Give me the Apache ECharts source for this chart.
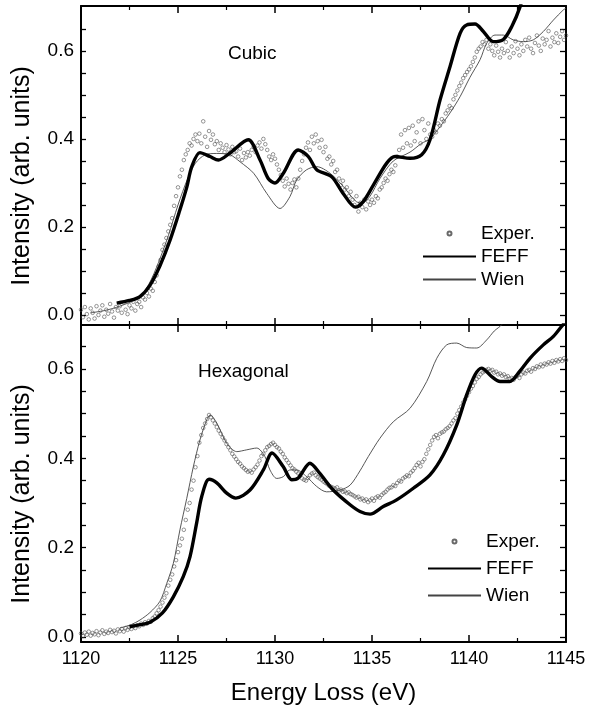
<!DOCTYPE html>
<html>
<head>
<meta charset="utf-8">
<script src="https://cdn.jsdelivr.net/npm/echarts@6/dist/echarts.min.js"></script>
<style>
html,body{margin:0;padding:0;background:#fff;}
#chart{width:589px;height:710px;}
</style>
</head>
<body>
<div id="chart"></div>
<script>
// Energy grid of the experimental spectra (eV)
const expEnergy = [
1120.0,1120.1,1120.2,1120.3,1120.4,1120.5,1120.6,1120.7,1120.8,1120.9,
1121.0,1121.1,1121.2,1121.3,1121.4,1121.5,1121.6,1121.7,1121.8,1121.9,
1122.0,1122.1,1122.2,1122.3,1122.4,1122.5,1122.6,1122.7,1122.8,1122.9,
1123.0,1123.1,1123.2,1123.3,1123.4,1123.5,1123.6,1123.7,1123.8,1123.9,
1124.0,1124.1,1124.2,1124.3,1124.4,1124.5,1124.6,1124.7,1124.8,1124.9,
1125.0,1125.1,1125.2,1125.3,1125.4,1125.5,1125.6,1125.7,1125.8,1125.9,
1126.0,1126.1,1126.2,1126.3,1126.4,1126.5,1126.6,1126.7,1126.8,1126.9,
1127.0,1127.1,1127.2,1127.3,1127.4,1127.5,1127.6,1127.7,1127.8,1127.9,
1128.0,1128.1,1128.2,1128.3,1128.4,1128.5,1128.6,1128.7,1128.8,1128.9,
1129.0,1129.1,1129.2,1129.3,1129.4,1129.5,1129.6,1129.7,1129.8,1129.9,
1130.0,1130.1,1130.2,1130.3,1130.4,1130.5,1130.6,1130.7,1130.8,1130.9,
1131.0,1131.1,1131.2,1131.3,1131.4,1131.5,1131.6,1131.7,1131.8,1131.9,
1132.0,1132.1,1132.2,1132.3,1132.4,1132.5,1132.6,1132.7,1132.8,1132.9,
1133.0,1133.1,1133.2,1133.3,1133.4,1133.5,1133.6,1133.7,1133.8,1133.9,
1134.0,1134.1,1134.2,1134.3,1134.4,1134.5,1134.6,1134.7,1134.8,1134.9,
1135.0,1135.1,1135.2,1135.3,1135.4,1135.5,1135.6,1135.7,1135.8,1135.9,
1136.0,1136.1,1136.2,1136.3,1136.4,1136.5,1136.6,1136.7,1136.8,1136.9,
1137.0,1137.1,1137.2,1137.3,1137.4,1137.5,1137.6,1137.7,1137.8,1137.9,
1138.0,1138.1,1138.2,1138.3,1138.4,1138.5,1138.6,1138.7,1138.8,1138.9,
1139.0,1139.1,1139.2,1139.3,1139.4,1139.5,1139.6,1139.7,1139.8,1139.9,
1140.0,1140.1,1140.2,1140.3,1140.4,1140.5,1140.6,1140.7,1140.8,1140.9,
1141.0,1141.1,1141.2,1141.3,1141.4,1141.5,1141.6,1141.7,1141.8,1141.9,
1142.0,1142.1,1142.2,1142.3,1142.4,1142.5,1142.6,1142.7,1142.8,1142.9,
1143.0,1143.1,1143.2,1143.3,1143.4,1143.5,1143.6,1143.7,1143.8,1143.9,
1144.0,1144.1,1144.2,1144.3,1144.4,1144.5,1144.6,1144.7,1144.8,1144.9,
1145.0];

// Cubic: experimental intensities on expEnergy
const cubicExp = [
0.012,-0.005,0.018,0.002,-0.01,0.015,0.005,-0.008,0.02,0.0,
0.01,0.022,-0.004,0.012,0.003,0.025,0.008,-0.006,0.018,0.01,
0.02,0.005,0.028,0.012,0.002,0.022,0.015,0.03,0.01,0.025,
0.03,0.018,0.04,0.035,0.05,0.042,0.06,0.055,0.075,0.09,
0.11,0.125,0.148,0.16,0.175,0.19,0.205,0.22,0.248,0.27,
0.29,0.315,0.33,0.352,0.365,0.375,0.39,0.385,0.40,0.41,
0.395,0.412,0.39,0.44,0.405,0.382,0.418,0.398,0.41,0.388,
0.395,0.375,0.39,0.38,0.37,0.386,0.376,0.365,0.382,0.37,
0.372,0.36,0.378,0.352,0.368,0.358,0.37,0.362,0.375,0.382,
0.37,0.385,0.392,0.378,0.40,0.388,0.375,0.36,0.352,0.365,
0.355,0.342,0.33,0.318,0.305,0.292,0.31,0.298,0.285,0.30,
0.308,0.29,0.31,0.33,0.35,0.365,0.38,0.392,0.375,0.405,
0.39,0.41,0.395,0.38,0.398,0.37,0.382,0.355,0.36,0.342,
0.35,0.325,0.33,0.31,0.295,0.305,0.285,0.29,0.27,0.28,
0.262,0.25,0.27,0.235,0.255,0.245,0.262,0.24,0.258,0.25,
0.262,0.255,0.27,0.265,0.285,0.29,0.30,0.31,0.305,0.32,
0.33,0.325,0.34,0.36,0.375,0.41,0.38,0.42,0.39,0.425,
0.385,0.43,0.395,0.415,0.44,0.39,0.445,0.42,0.40,0.435,
0.41,0.405,0.42,0.415,0.435,0.43,0.445,0.44,0.458,0.465,
0.475,0.47,0.49,0.50,0.51,0.52,0.528,0.538,0.545,0.552,
0.558,0.565,0.575,0.585,0.598,0.605,0.61,0.62,0.615,0.625,
0.605,0.615,0.6,0.59,0.612,0.598,0.585,0.605,0.595,0.62,
0.6,0.585,0.61,0.595,0.622,0.605,0.59,0.615,0.6,0.625,
0.61,0.63,0.605,0.595,0.618,0.635,0.612,0.6,0.628,0.615,
0.625,0.645,0.61,0.63,0.62,0.64,0.618,0.632,0.645,0.625,
0.635];

// Cubic: FEFF calculation [energy, intensity]
const cubicFeff = [
[1121.84,0.027],[1122.5,0.033],[1123.04,0.042],[1123.56,0.068],[1124.07,0.112],
[1124.59,0.17],[1125.1,0.239],[1125.45,0.29],[1125.71,0.337],[1126.13,0.369],
[1126.65,0.36],[1127.08,0.352],[1127.68,0.368],[1128.62,0.398],[1129.23,0.352],
[1129.65,0.31],[1130.0,0.30],[1130.43,0.322],[1131.2,0.375],[1131.72,0.36],
[1132.15,0.33],[1132.92,0.314],[1133.5,0.277],[1134.15,0.245],[1134.54,0.257],
[1135.07,0.295],[1135.76,0.345],[1136.19,0.36],[1136.96,0.356],[1137.56,0.364],
[1137.99,0.398],[1138.51,0.489],[1139.02,0.564],[1139.54,0.64],[1139.88,0.659],
[1140.31,0.661],[1140.74,0.644],[1141.25,0.621],[1141.77,0.626],[1142.2,0.655],
[1142.63,0.70],[1143.0,0.76]];

// Cubic: Wien2k calculation [energy, intensity]
const cubicWien = [
[1120.5,0.005],[1121.2,0.01],[1122.0,0.02],[1123.0,0.04],[1123.5,0.07],
[1124.0,0.12],[1124.5,0.18],[1125.0,0.25],[1125.5,0.31],[1125.9,0.345],
[1126.4,0.364],[1127.0,0.367],[1127.68,0.364],[1128.2,0.348],[1128.9,0.322],
[1129.58,0.276],[1130.26,0.242],[1130.77,0.269],[1131.12,0.307],[1131.63,0.33],
[1132.15,0.337],[1132.84,0.322],[1133.52,0.292],[1134.21,0.257],[1134.5,0.255],
[1134.9,0.27],[1135.41,0.31],[1136.1,0.35],[1136.96,0.37],[1137.56,0.39],
[1137.99,0.40],[1138.51,0.428],[1139.02,0.459],[1139.54,0.496],[1140.05,0.54],
[1140.57,0.58],[1140.91,0.617],[1141.34,0.636],[1141.77,0.636],[1142.28,0.625],
[1142.8,0.621],[1143.31,0.625],[1143.83,0.644],[1144.35,0.67],[1144.86,0.693],
[1145.0,0.697]];

// Hexagonal: experimental intensities on expEnergy
const hexExp = [
0.008,0.002,0.01,0.005,0.012,0.003,0.009,0.006,0.013,0.004,
0.01,0.015,0.007,0.012,0.009,0.016,0.011,0.014,0.008,0.017,
0.013,0.018,0.012,0.02,0.016,0.022,0.018,0.024,0.02,0.026,
0.024,0.03,0.027,0.033,0.03,0.036,0.034,0.042,0.046,0.053,
0.06,0.068,0.077,0.088,0.098,0.115,0.128,0.14,0.158,0.172,
0.19,0.205,0.22,0.24,0.262,0.285,0.30,0.33,0.35,0.38,
0.405,0.435,0.452,0.468,0.478,0.488,0.497,0.492,0.485,0.478,
0.47,0.462,0.455,0.447,0.44,0.432,0.425,0.418,0.41,0.404,
0.398,0.392,0.388,0.382,0.378,0.374,0.37,0.372,0.368,0.375,
0.38,0.386,0.395,0.405,0.41,0.418,0.425,0.428,0.432,0.435,
0.43,0.425,0.422,0.415,0.41,0.402,0.396,0.39,0.384,0.378,
0.375,0.37,0.366,0.362,0.355,0.352,0.35,0.356,0.362,0.366,
0.368,0.362,0.358,0.355,0.352,0.348,0.345,0.342,0.338,0.336,
0.334,0.332,0.335,0.328,0.33,0.325,0.326,0.322,0.324,0.32,
0.318,0.315,0.312,0.314,0.308,0.31,0.305,0.308,0.302,0.306,
0.31,0.305,0.312,0.315,0.312,0.318,0.322,0.325,0.33,0.334,
0.335,0.34,0.338,0.345,0.35,0.348,0.355,0.358,0.362,0.36,
0.368,0.372,0.378,0.385,0.39,0.382,0.392,0.398,0.41,0.42,
0.43,0.44,0.448,0.452,0.445,0.455,0.458,0.46,0.465,0.468,
0.472,0.478,0.485,0.49,0.50,0.508,0.516,0.525,0.532,0.54,
0.548,0.556,0.562,0.57,0.578,0.582,0.588,0.592,0.595,0.598,
0.6,0.596,0.598,0.592,0.594,0.588,0.59,0.585,0.588,0.582,
0.584,0.578,0.58,0.576,0.582,0.585,0.58,0.588,0.592,0.59,
0.596,0.598,0.594,0.602,0.6,0.606,0.604,0.61,0.606,0.612,
0.61,0.615,0.612,0.618,0.614,0.62,0.617,0.622,0.618,0.624,
0.62];

// Hexagonal: FEFF calculation [energy, intensity]
const hexFeff = [
[1122.5,0.023],[1123.0,0.027],[1123.56,0.033],[1124.2,0.054],[1124.76,0.09],
[1125.27,0.135],[1125.62,0.18],[1125.96,0.255],[1126.22,0.314],[1126.6,0.353],
[1127.0,0.345],[1127.51,0.322],[1127.98,0.311],[1128.71,0.329],[1129.4,0.374],
[1129.85,0.412],[1130.43,0.381],[1130.86,0.352],[1131.2,0.356],[1131.8,0.389],
[1132.3,0.367],[1133.0,0.329],[1133.87,0.296],[1134.38,0.281],[1134.9,0.275],
[1135.58,0.292],[1136.27,0.307],[1137.13,0.333],[1137.99,0.363],[1138.68,0.408],
[1139.37,0.475],[1139.88,0.542],[1140.31,0.587],[1140.65,0.602],[1141.17,0.583],
[1141.6,0.572],[1142.1,0.572],[1142.6,0.594],[1143.14,0.624],[1143.83,0.654],
[1144.35,0.673],[1144.86,0.70],[1145.0,0.705]];

// Hexagonal: Wien2k calculation [energy, intensity]
const hexWien = [
[1122.0,0.02],[1122.6,0.028],[1123.04,0.038],[1123.56,0.055],[1124.07,0.08],
[1124.42,0.12],[1124.76,0.165],[1125.1,0.24],[1125.45,0.31],[1125.79,0.381],
[1126.13,0.441],[1126.48,0.486],[1126.65,0.497],[1127.0,0.479],[1127.51,0.434],
[1128.03,0.415],[1128.54,0.419],[1129.06,0.423],[1129.48,0.404],[1129.74,0.374],
[1130.09,0.355],[1130.43,0.359],[1130.77,0.374],[1131.12,0.374],[1131.63,0.359],
[1132.15,0.337],[1132.66,0.325],[1133.35,0.329],[1133.87,0.34],[1134.38,0.372],
[1134.81,0.404],[1135.41,0.445],[1136.1,0.482],[1136.96,0.512],[1137.82,0.572],
[1138.34,0.624],[1138.85,0.654],[1139.37,0.658],[1139.88,0.648],[1140.4,0.647],
[1140.91,0.665],[1141.3,0.685],[1141.7,0.70],[1142.2,0.74]];

// Axis tick labels / tick positions
const yLabelValues = [0, 0.2, 0.4, 0.6];
const yTickValues = [0,0.05,0.1,0.15,0.2,0.25,0.3,0.35,0.4,0.45,0.5,0.55,0.6,0.65];
const panelNames = ['Cubic', 'Hexagonal'];
const seriesNames = ['Exper.', 'FEFF', 'Wien'];

const FONT = 'Liberation Sans, Arial, Helvetica, sans-serif';
const chart = echarts.init(document.getElementById('chart'), null, {renderer: 'canvas'});

const axisLineStyle = {color: '#000', width: 2};

function xAxes(g, showLabels) {
  const base = {
    type: 'value', gridIndex: g, min: 1120, max: 1145, interval: 5,
    axisLine: {show: true, onZero: false, lineStyle: axisLineStyle},
    axisTick: {show: true, inside: true, length: 7, lineStyle: {color: '#000', width: 1.5}},
    minorTick: {show: true, splitNumber: 2, length: 4, lineStyle: {color: '#000', width: 1.2}},
    splitLine: {show: false}, minorSplitLine: {show: false}
  };
  const bottom = Object.assign({}, base, {
    position: 'bottom',
    axisLabel: {show: showLabels, fontSize: 18, color: '#000', fontFamily: FONT, margin: 8,
                formatter: v => String(v)}
  });
  if (showLabels) {
    Object.assign(bottom, {
      name: 'Energy Loss (eV)', nameLocation: 'middle', nameGap: 39,
      nameTextStyle: {fontSize: 24, color: '#000', fontFamily: FONT}
    });
  }
  const top = Object.assign({}, base, {position: 'top', axisLabel: {show: false}});
  return [bottom, top];
}

function yAxes(g, min, max) {
  const tick = {show: true, inside: true, length: 5, customValues: yTickValues,
                lineStyle: {color: '#000', width: 1.3}};
  const left = {
    type: 'value', gridIndex: g, position: 'left', min: min, max: max,
    axisLine: {show: true, onZero: false, lineStyle: axisLineStyle},
    axisTick: tick,
    axisLabel: {show: true, customValues: yLabelValues, fontSize: 19, color: '#000',
                fontFamily: FONT, margin: 7, formatter: v => v.toFixed(1)},
    splitLine: {show: false},
    name: 'Intensity (arb. units)', nameLocation: 'middle', nameGap: 46,
    nameTextStyle: {fontSize: 25, color: '#000', fontFamily: FONT, padding: [0, 21, 0, 0]}
  };
  const right = {
    type: 'value', gridIndex: g, position: 'right', min: min, max: max,
    axisLine: {show: true, onZero: false, lineStyle: axisLineStyle},
    axisTick: Object.assign({}, tick, {length: 6}),
    axisLabel: {show: false}, splitLine: {show: false}
  };
  return [left, right];
}

function expPairs(vals) {
  return expEnergy.map((e, i) => [e, vals[i]]);
}

function panelSeries(g, exp, feff, wien) {
  const xi = g * 2, yi = g * 2;
  return [
    {name: seriesNames[0], type: 'scatter', xAxisIndex: xi, yAxisIndex: yi,
     data: expPairs(exp), symbol: 'circle', symbolSize: 3.6,
     itemStyle: {color: 'rgba(255,255,255,0)', borderColor: '#444', borderWidth: 0.7},
     emphasis: {disabled: true}, z: 2},
    {name: seriesNames[2], type: 'line', xAxisIndex: xi, yAxisIndex: yi,
     data: wien, symbol: 'none', smooth: 0.3,
     itemStyle: {color: '#444'},
     lineStyle: {color: '#444', width: 0.9}, z: 3},
    {name: seriesNames[1], type: 'line', xAxisIndex: xi, yAxisIndex: yi,
     data: feff, symbol: 'none', smooth: 0.3,
     itemStyle: {color: '#000'},
     lineStyle: {color: '#000', width: 3.4}, z: 4}
  ];
}

const legendBase = {
  data: [
    {name: seriesNames[0]},
    {name: seriesNames[1], itemStyle: {opacity: 0}},
    {name: seriesNames[2], itemStyle: {opacity: 0}}
  ],
  orient: 'vertical', itemWidth: 53, itemHeight: 4,
  padding: 0, selectedMode: false,
  textStyle: {fontSize: 19, color: '#000', fontFamily: FONT}
};

const option = {
  backgroundColor: '#fff',
  animation: false,
  title: [
    {text: panelNames[0], left: 228, top: 44, padding: 0,
     textStyle: {fontSize: 19, fontWeight: 'normal', color: '#000', fontFamily: FONT}},
    {text: panelNames[1], left: 198, top: 362, padding: 0,
     textStyle: {fontSize: 19, fontWeight: 'normal', color: '#000', fontFamily: FONT}}
  ],
  legend: [
    Object.assign({}, legendBase, {left: 422, top: 224, itemGap: 4}),
    Object.assign({}, legendBase, {left: 427, top: 532, itemGap: 8})
  ],
  grid: [
    {left: 81, right: 23, top: 6, height: 319},
    {left: 81, right: 23, top: 325, height: 317}
  ],
  xAxis: [].concat(xAxes(0, false), xAxes(1, true)),
  yAxis: [].concat(yAxes(0, -0.0227, 0.702), yAxes(1, -0.0112, 0.6985)),
  series: [].concat(
    panelSeries(0, cubicExp, cubicFeff, cubicWien),
    panelSeries(1, hexExp, hexFeff, hexWien)
  )
};

chart.setOption(option);
</script>
</body>
</html>
